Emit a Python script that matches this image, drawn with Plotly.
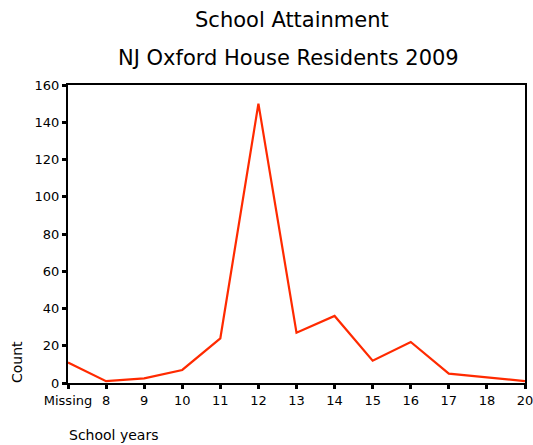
import plotly.graph_objects as go

categories = ["Missing", "8", "9", "10", "11", "12", "13", "14", "15", "16", "17", "18", "20"]
counts = [11, 1, 2.5, 7, 24, 150, 27, 36, 12, 22, 5, 3, 1]
y_ticks = [0, 20, 40, 60, 80, 100, 120, 140, 160]

FONT = "DejaVu Sans"
W, H = 533, 445
L, R, T, B = 68, 8, 85, 62
pw, ph = W - L - R, H - T - B


def px(x):
    return (x - L) / pw


def py(y):
    return (H - B - y) / ph


fig = go.Figure()
fig.add_trace(go.Scatter(x=categories, y=counts, mode="lines",
                         line=dict(color="#ff2a00", width=2.2), showlegend=False))

axis_common = dict(showline=True, linecolor="black", linewidth=2, mirror=True,
                   ticks="outside", ticklen=4, tickwidth=3, tickcolor="black",
                   showgrid=False, zeroline=False, tickfont=dict(size=13),
                   automargin=False)

fig.update_layout(
    width=W, height=H,
    margin=dict(l=L, r=R, t=T, b=B),
    paper_bgcolor="white", plot_bgcolor="white",
    font=dict(family=FONT, color="black", size=13),
    xaxis=dict(type="category", range=[0, len(categories) - 1],
               ticklabeloverflow="allow", **axis_common),
    yaxis=dict(range=[0, 160], tickvals=y_ticks, **axis_common),
    annotations=[
        dict(text="School Attainment", xref="paper", yref="paper",
             x=px(292), y=py(20), xanchor="center", yanchor="middle",
             showarrow=False, font=dict(size=21, family=FONT)),
        dict(text="NJ Oxford House Residents 2009", xref="paper", yref="paper",
             x=px(288), y=py(58), xanchor="center", yanchor="middle",
             showarrow=False, font=dict(size=21, family=FONT)),
        dict(text="Count", xref="paper", yref="paper", textangle=-90,
             x=px(17), y=py(362), xanchor="center", yanchor="middle",
             showarrow=False, font=dict(size=14, family=FONT)),
        dict(text="School years", xref="paper", yref="paper",
             x=px(67), y=py(435), xanchor="left", yanchor="middle",
             showarrow=False, font=dict(size=14, family=FONT)),
    ],
)

fig.write_html("out.html",
               config={"displayModeBar": False},
               post_script="document.body.style.margin='0';document.body.style.overflow='hidden';")
